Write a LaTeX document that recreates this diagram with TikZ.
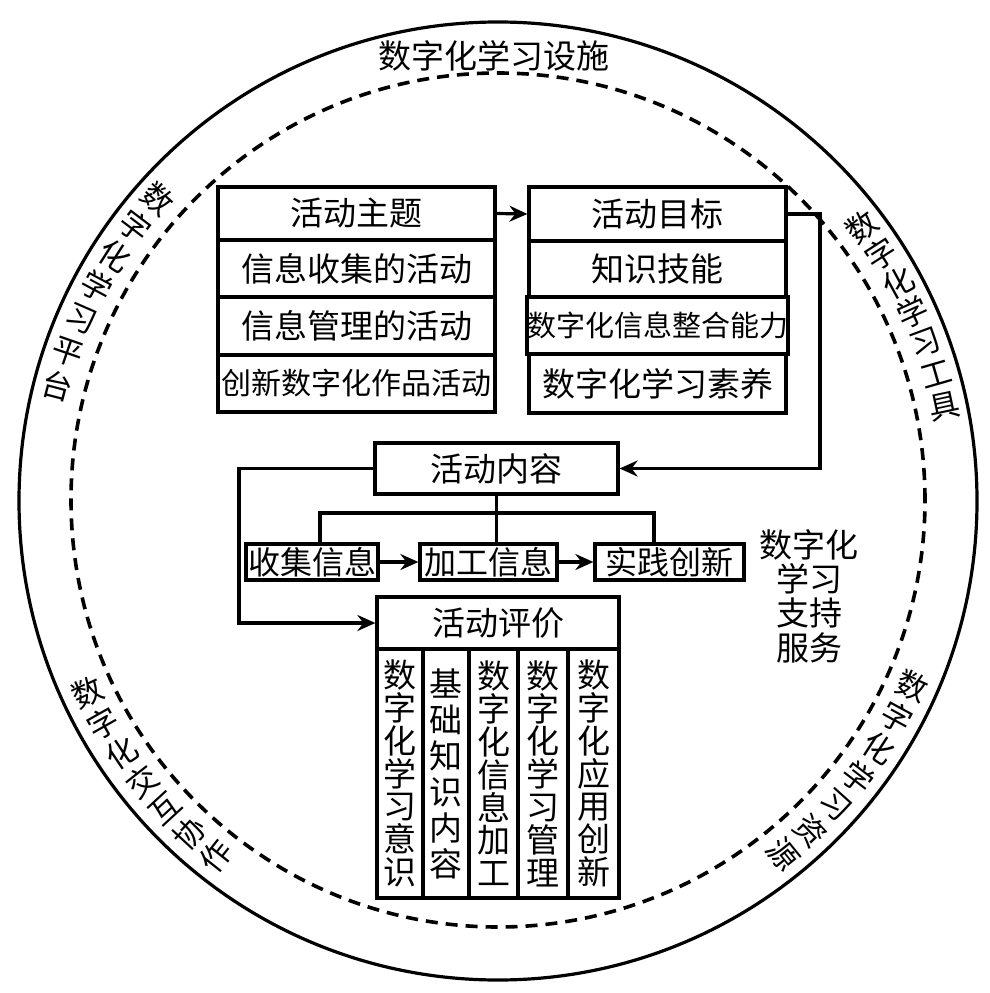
\documentclass[tikz,border=0pt]{standalone}
\usepackage{fontspec}
\setmainfont{Noto Sans CJK SC}
\usetikzlibrary{arrows.meta}
\newcommand\myfs[2]{\fontsize{#1pt}{#2pt}\selectfont}
\begin{document}
\begin{tikzpicture}[x=1pt,y=-1pt,
  box/.style={draw, line width=3.2pt, rectangle, inner sep=0pt},
  colbox/.style={draw, line width=3.2pt, rectangle, inner sep=0pt, align=center, minimum height=249pt},
  arr/.style={line width=3.2pt, -{Stealth[length=18pt,width=16pt,inset=6pt]}},
  conn/.style={line width=3.2pt},
  lab/.style={inner sep=0pt, font=\myfs{31}{31}},
]
\useasboundingbox (0,0) rectangle (990,993);
% circles
\draw[line width=3.2pt] (498,501) circle[radius=479pt];
\draw[line width=3.6pt, dash pattern=on 12pt off 8pt] (498,500) circle[radius=427pt];
% title
\node[lab, font=\myfs{33}{33}] (title) at (493.5,56) {数字化学习设施};
% left box
\node[box, font=\myfs{33}{33}, minimum width=277pt, minimum height=53pt] (l1) at (356.5,213.5) {活动主题};
\node[box, font=\myfs{33}{33}, minimum width=277pt, minimum height=57pt] (l2) at (356.5,268.5) {信息收集的活动};
\node[box, font=\myfs{33}{33}, minimum width=277pt, minimum height=58pt] (l3) at (356.5,326) {信息管理的活动};
\node[box, font=\myfs{30}{30}, minimum width=277pt, minimum height=57pt] (l4) at (356.5,383.5) {创新数字化作品活动};
% right box
\node[box, font=\myfs{33}{33}, minimum width=257pt, minimum height=54pt] (r1) at (657.5,214) {活动目标};
\node[box, font=\myfs{33}{33}, minimum width=257pt, minimum height=56pt] (r2) at (657.5,269) {知识技能};
\node[box, font=\myfs{29}{29}, minimum width=257pt, minimum height=57pt] (r3) at (657.5,325.5) {数字化信息整合能力};
\node[box, font=\myfs{33}{33}, minimum width=257pt, minimum height=59pt] (r4) at (657.5,383.5) {数字化学习素养};
% content
\node[box, font=\myfs{33}{33}, minimum width=243pt, minimum height=51pt] (content) at (496.5,468.5) {活动内容};
\node[box, font=\myfs{32}{32}, minimum width=132pt, minimum height=36pt] (m1) at (312,562) {收集信息};
\node[box, font=\myfs{32}{32}, minimum width=137pt, minimum height=36pt] (m2) at (488.5,562) {加工信息};
\node[box, font=\myfs{32}{32}, minimum width=149pt, minimum height=36pt] (m3) at (669.5,562) {实践创新};
% evaluation
\node[box, font=\myfs{33}{33}, minimum width=242pt, minimum height=52pt] (eval) at (498,623) {活动评价};
\node[colbox, font=\myfs{33}{32.8}, minimum width=46pt] (c1) at (400,773.5) {数\\字\\化\\学\\习\\意\\识};
\node[colbox, font=\myfs{33}{36}, minimum width=46pt] (c2) at (446,773.5) {基\\础\\知\\识\\内\\容};
\node[colbox, font=\myfs{33}{32.8}, minimum width=49pt] (c3) at (493.5,773.5) {数\\字\\化\\信\\息\\加\\工};
\node[colbox, font=\myfs{33}{32.8}, minimum width=50pt] (c4) at (543,773.5) {数\\字\\化\\学\\习\\管\\理};
\node[colbox, font=\myfs{33}{32.8}, minimum width=51pt] (c5) at (593.5,773.5) {数\\字\\化\\应\\用\\创\\新};
% service label
\node[inner sep=0pt, align=center, font=\myfs{33}{34.3}] (svc) at (809,596) {数字化\\学习\\支持\\服务};
% connectors
\draw[arr] (l1.east) -- (r1.west);
\coordinate (rc) at (820,214);
\draw[arr] (r1.east) -- (rc) |- (content.east);
\coordinate (lc) at (239,468.5);
\draw[arr] (content.west) -- (lc) |- (eval.west);
\coordinate (ta) at (320,513);
\coordinate (tb) at (496.5,513);
\coordinate (tc) at (654,513);
\draw[conn] (content.south) -- (tb);
\draw[conn] ([xshift=-1.6pt]ta) -- ([xshift=1.6pt]tc);
\draw[conn] (ta) -- (ta |- m1.north);
\draw[conn] (tb) -- (tb |- m2.north);
\draw[conn] (tc) -- (tc |- m3.north);
\draw[arr] (m1.east) -- (m2.west);
\draw[arr] (m2.east) -- (m3.west);
% arc labels
\foreach \c [count=\i from 0] in {数,字,化,学,习,平,台}{
  \pgfmathsetmacro\a{138.4+4.5*\i}
  \pgfmathsetmacro\r{\a-180}
  \node[lab, rotate=\r] (pa\i) at ({498+455*cos(\a)},{501-455*sin(\a)}) {\c};
}
\foreach \c [count=\i from 0] in {数,字,化,学,习,工,具}{
  \pgfmathsetmacro\a{37-4.17*\i}
  \node[lab, rotate=\a] (pb\i) at ({498+456*cos(\a)},{501-456*sin(\a)}) {\c};
}
\foreach \c [count=\i from 0] in {数,字,化,交,互,协,作}{
  \pgfmathsetmacro\a{205+4.42*\i}
  \pgfmathsetmacro\r{\a-180}
  \node[lab, rotate=\r] (pc\i) at ({498+453*cos(\a)},{501-453*sin(\a)}) {\c};
}
\foreach \c [count=\i from 0] in {数,字,化,学,习,资,源}{
  \pgfmathsetmacro\a{-24-4.5*\i}
  \node[lab, rotate=\a] (pd\i) at ({498+454*cos(\a)},{501-454*sin(\a)}) {\c};
}
\end{tikzpicture}
\end{document}
